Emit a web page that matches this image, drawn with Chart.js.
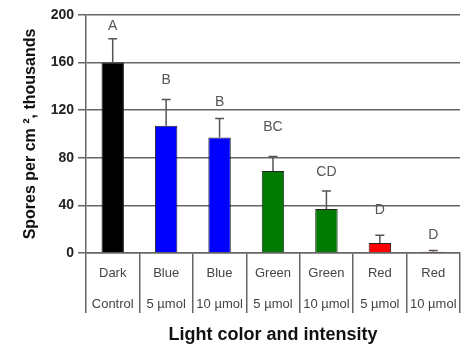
<!DOCTYPE html>
<html>
<head>
<meta charset="utf-8">
<script src="https://cdn.jsdelivr.net/npm/chart.js@4"></script>
<style>
  html, body { margin: 0; padding: 0; background: #fff; }
  #wrap { width: 462px; height: 350px; }
</style>
</head>
<body>
<div id="wrap"><canvas id="myChart" width="462" height="350"></canvas></div>
<script>
// data
var categories = [['Dark', 'Control'], ['Blue', '5 µmol'], ['Blue', '10 µmol'], ['Green', '5 µmol'], ['Green', '10 µmol'], ['Red', '5 µmol'], ['Red', '10 µmol']];
var spores = [160, 107, 97, 69, 37, 8.5, 1];
var errTop = [180, 129, 113, 81, 52, 15, 2];
var letters = ['A', 'B', 'B', 'BC', 'CD', 'D', 'D'];
var letterAt = [191, 145, 127, 106, 68, 36, 15];
var barColors = ['#000000', '#0000ff', '#0000ff', '#007a00', '#007a00', '#ff0000', '#ff0000'];
var yTicks = [0, 40, 80, 120, 160, 200];

var lineGray = '#666';

// error bars + letters on top of the bars
var extras = {
  id: 'extras',
  afterDatasetsDraw: function(chart) {
    var ctx = chart.ctx;
    var xs = chart.scales.x, ys = chart.scales.y;
    ctx.save();
    ctx.strokeStyle = '#555';
    ctx.lineWidth = 1.5;
    for (var i = 0; i < spores.length; i++) {
      var x = xs.getPixelForValue(i);
      var y0 = ys.getPixelForValue(spores[i]);
      var y1 = ys.getPixelForValue(errTop[i]);
      ctx.beginPath();
      ctx.moveTo(x, y0);
      ctx.lineTo(x, y1);
      ctx.moveTo(x - 4.5, y1);
      ctx.lineTo(x + 4.5, y1);
      ctx.stroke();
    }
    ctx.fillStyle = '#555';
    ctx.font = '14px "Liberation Sans", Arial, sans-serif';
    ctx.textAlign = 'center';
    ctx.textBaseline = 'middle';
    for (var j = 0; j < letters.length; j++) {
      ctx.fillText(letters[j], xs.getPixelForValue(j), ys.getPixelForValue(letterAt[j]));
    }
    ctx.restore();
  }
};

var ctx = document.getElementById('myChart').getContext('2d');
var myChart = new Chart(ctx, {
  type: 'bar',
  data: {
    labels: categories,
    datasets: [{
      data: spores,
      backgroundColor: barColors,
      borderColor: '#222',
      borderWidth: 1,
      barPercentage: 0.42,
      categoryPercentage: 1
    }]
  },
  options: {
    responsive: false,
    animation: false,
    layout: { padding: { top: 15, right: 2, left: 0, bottom: 0 } },
    plugins: {
      legend: { display: false },
      tooltip: { enabled: false }
    },
    scales: {
      x: {
        offset: true,
        grid: {
          offset: true,
          drawOnChartArea: true,
          color: function(c) { return c.index === categories.length ? lineGray : 'rgba(0,0,0,0)'; },
          tickColor: lineGray,
          tickLength: 60,
          lineWidth: 1.5
        },
        border: { display: true, color: lineGray, width: 1.5 },
        ticks: {
          color: '#444',
          padding: -56,
          maxRotation: 0,
          autoSkip: false,
          font: { family: '"Liberation Sans", Arial, sans-serif', size: 13, lineHeight: 2.45 }
        },
        title: {
          display: true,
          text: 'Light color and intensity',
          color: '#111',
          font: { family: '"Liberation Sans", Arial, sans-serif', size: 18, weight: 'bold' },
          padding: { top: 0, bottom: 4 }
        },
        afterFit: function(s) { s.height = 97; }
      },
      y: {
        min: 0,
        max: 200,
        afterBuildTicks: function(s) { s.ticks = yTicks.map(function(v) { return { value: v }; }); },
        grid: { color: lineGray, tickLength: 8, lineWidth: 1.5 },
        border: { display: true, color: lineGray, width: 1.5 },
        ticks: {
          color: '#222',
          padding: 4,
          font: { family: '"Liberation Sans", Arial, sans-serif', size: 14, weight: 'bold' }
        },
        title: {
          display: true,
          text: 'Spores per cm ², thousands',
          color: '#111',
          font: { family: '"Liberation Sans", Arial, sans-serif', size: 16, weight: 'bold' },
          padding: { top: 21, bottom: 0 }
        },
        afterFit: function(s) { s.width = 86; }
      }
    }
  },
  plugins: [extras]
});
</script>
</body>
</html>
